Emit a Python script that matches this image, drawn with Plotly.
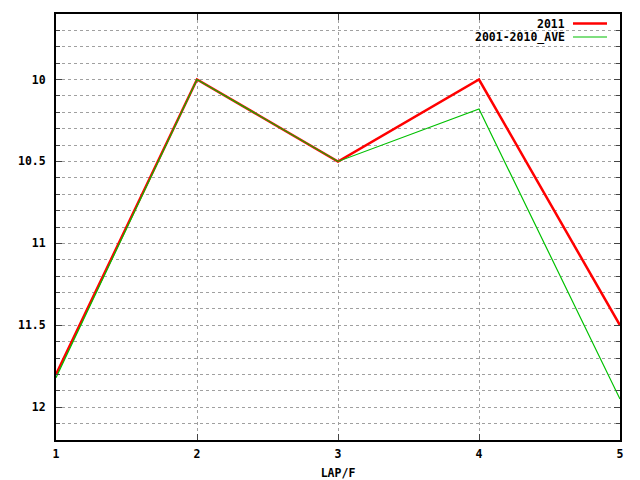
import plotly.graph_objects as go

laps = [1, 2, 3, 4, 5]
y2011 = [11.80, 10.00, 10.50, 10.00, 11.50]
yave = [11.82, 10.00, 10.50, 10.18, 11.95]
series_names = ["2011", "2001-2010_AVE"]
colors = ["#ff0000", "#00c000"]
widths = [2.5, 1.2]
ytickvals = [10, 10.5, 11, 11.5, 12]
yticktext = ["10", "10.5", "11", "11.5", "12"]

FONT = dict(family="DejaVu Sans Mono", size=11.5, color="black", weight="bold")

fig = go.Figure()
for name, ys, c, w in zip(series_names, [y2011, yave], colors, widths):
    fig.add_trace(go.Scatter(x=laps, y=ys, mode="lines", name=name,
                             line=dict(color=c, width=w), showlegend=False))

grid = dict(showgrid=True, gridcolor="#a0a0a0", griddash="3px,3px", gridwidth=1)
fig.update_xaxes(range=[1, 5], tickvals=laps, ticks="inside", ticklen=6, tickwidth=1,
                 showline=True, linecolor="black", linewidth=2, mirror="ticks",
                 zeroline=False, tickfont=FONT, automargin=False, ticklabelstandoff=2,
                 title=dict(text="LAP/F", font=FONT, standoff=9),
                 **grid)
fig.update_yaxes(range=[12.2, 9.6], tickvals=ytickvals, ticktext=yticktext,
                 ticks="inside", ticklen=6, tickwidth=1,
                 showline=True, linecolor="black", linewidth=2, mirror="ticks",
                 zeroline=False, tickfont=FONT, automargin=False, ticklabelstandoff=6,
                 minor=dict(dtick=0.1, tick0=10, ticks="inside", ticklen=4, showgrid=True,
                            gridcolor="#a0a0a0", griddash="3px,3px"),
                 **grid)

# gnuplot-style legend: text right-aligned, sample line to the right
leg_y = [23.5, 37]
for name, c, w, yy in zip(series_names, colors, widths, leg_y):
    fig.add_annotation(xref="paper", yref="paper", x=(567 - 56) / 564, y=1 - (yy - 14) / 426,
                       text=name, showarrow=False, xanchor="right", yanchor="middle",
                       height=13, valign="middle", font=FONT)
    fig.add_shape(type="line", xref="paper", yref="paper",
                  x0=(573 - 56) / 564, x1=(607 - 56) / 564,
                  y0=1 - (yy - 14) / 426, y1=1 - (yy - 14) / 426,
                  line=dict(color=c, width=w))

fig.update_layout(width=640, height=480, margin=dict(l=56, r=20, t=14, b=40),
                  plot_bgcolor="white", paper_bgcolor="white", font=FONT)
fig.write_html("out.html", config={"displayModeBar": False},
               post_script="document.body.style.margin='0px';")
